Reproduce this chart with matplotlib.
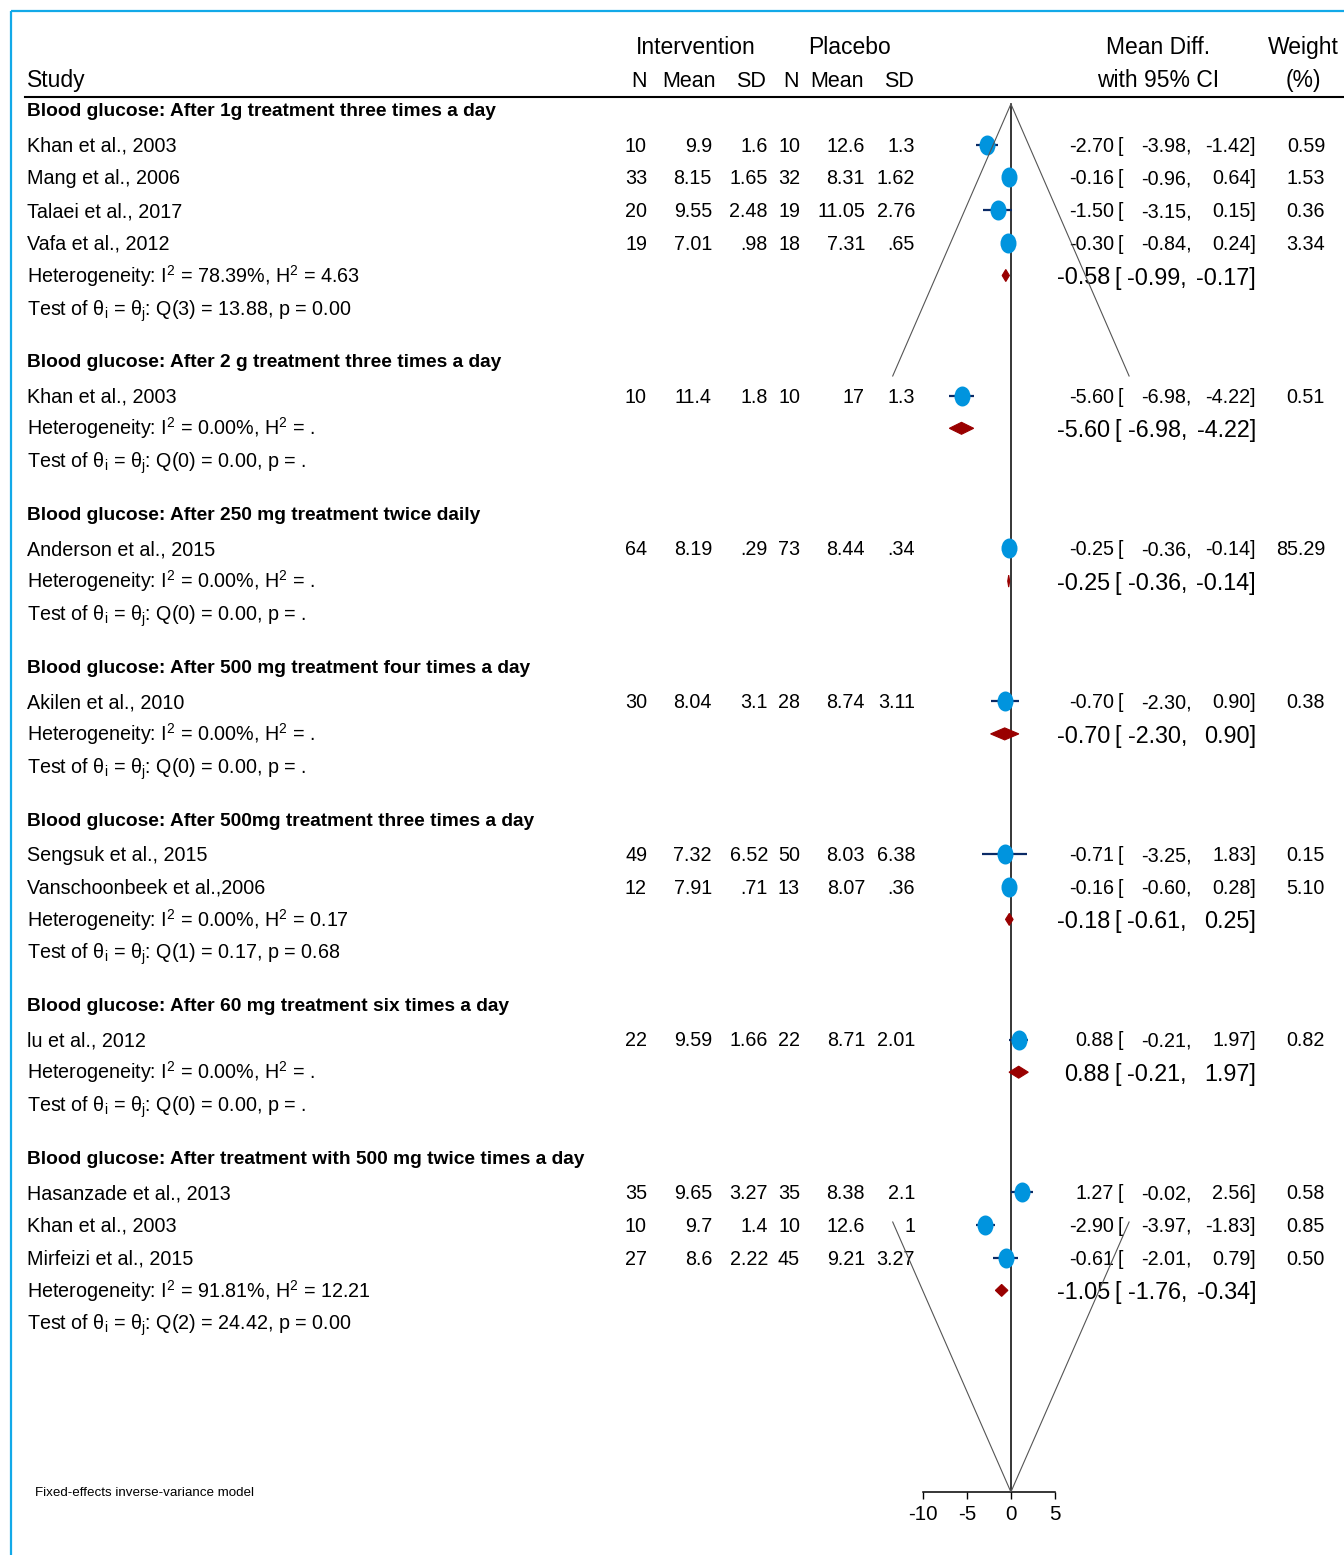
import matplotlib
matplotlib.use('Agg')
import matplotlib.pyplot as plt
from matplotlib.path import Path
from matplotlib.transforms import Affine2D

plt.rcParams['font.family'] = ['Liberation Sans', 'DejaVu Sans']
plt.rcParams['mathtext.fontset'] = 'custom'
plt.rcParams['mathtext.rm'] = 'Liberation Sans'
plt.rcParams['mathtext.it'] = 'Liberation Sans:italic'
plt.rcParams['mathtext.default'] = 'regular'
plt.rcParams['axes.unicode_minus'] = False

# %%
# subgroups and studies
groups = ['Blood glucose: After 1g treatment three times a day',
          'Blood glucose: After 2 g treatment three times a day',
          'Blood glucose: After 250 mg treatment twice daily',
          'Blood glucose: After 500 mg treatment four times a day',
          'Blood glucose: After 500mg treatment three times a day',
          'Blood glucose: After 60 mg treatment six times a day',
          'Blood glucose: After treatment with 500 mg twice times a day']
study_group = [0, 0, 0, 0, 1, 2, 3, 4, 4, 5, 6, 6, 6]
studies = ['Khan et al., 2003', 'Mang et al., 2006', 'Talaei et al., 2017', 'Vafa et al., 2012',
           'Khan et al., 2003', 'Anderson et al., 2015', 'Akilen et al., 2010',
           'Sengsuk et al., 2015', 'Vanschoonbeek et al.,2006', 'lu et al., 2012',
           'Hasanzade et al., 2013', 'Khan et al., 2003', 'Mirfeizi et al., 2015']
int_n = ['10', '33', '20', '19', '10', '64', '30', '49', '12', '22', '35', '10', '27']
int_mean = ['9.9', '8.15', '9.55', '7.01', '11.4', '8.19', '8.04', '7.32', '7.91', '9.59', '9.65', '9.7', '8.6']
int_sd = ['1.6', '1.65', '2.48', '.98', '1.8', '.29', '3.1', '6.52', '.71', '1.66', '3.27', '1.4', '2.22']
pla_n = ['10', '32', '19', '18', '10', '73', '28', '50', '13', '22', '35', '10', '45']
pla_mean = ['12.6', '8.31', '11.05', '7.31', '17', '8.44', '8.74', '8.03', '8.07', '8.71', '8.38', '12.6', '9.21']
pla_sd = ['1.3', '1.62', '2.76', '.65', '1.3', '.34', '3.11', '6.38', '.36', '2.01', '2.1', '1', '3.27']
md = [-2.70, -0.16, -1.50, -0.30, -5.60, -0.25, -0.70, -0.71, -0.16, 0.88, 1.27, -2.90, -0.61]
md_lo = [-3.98, -0.96, -3.15, -0.84, -6.98, -0.36, -2.30, -3.25, -0.60, -0.21, -0.02, -3.97, -2.01]
md_hi = [-1.42, 0.64, 0.15, 0.24, -4.22, -0.14, 0.90, 1.83, 0.28, 1.97, 2.56, -1.83, 0.79]
weight = [0.59, 1.53, 0.36, 3.34, 0.51, 85.29, 0.38, 0.15, 5.10, 0.82, 0.58, 0.85, 0.50]

# subgroup pooled results
sub_md = [-0.58, -5.60, -0.25, -0.70, -0.18, 0.88, -1.05]
sub_lo = [-0.99, -6.98, -0.36, -2.30, -0.61, -0.21, -1.76]
sub_hi = [-0.17, -4.22, -0.14, 0.90, 0.25, 1.97, -0.34]
i2 = ['78.39', '0.00', '0.00', '0.00', '0.00', '0.00', '91.81']
h2 = ['4.63', '.', '.', '.', '0.17', '.', '12.21']
q_df = [3, 0, 0, 0, 1, 0, 2]
q_stat = ['13.88', '0.00', '0.00', '0.00', '0.17', '0.00', '24.42']
q_p = ['0.00', '.', '.', '.', '0.68', '.', '0.00']

x_ticks = [-10, -5, 0, 5]

# %%
BLUE = '#0094DE'
NAVY = '#0A2A66'
DRED = '#990000'
FS = 14.2       # table rows
FS_HEAD = 16.5  # column headers
FS_SUM = 16.8   # pooled estimates

fig = plt.figure(figsize=(13.44, 15.55), dpi=100)
ax = fig.add_axes([0, 0, 1, 1])
ax.set_xlim(0, 1344)
ax.set_ylim(1555, 0)
ax.axis('off')

# forest panel: x in mean-difference units, y in the same row coordinates as ax
x_left, x_right, y_axis = 922.7, 1055.0, 1491.5
ax2 = fig.add_axes([x_left / 1344, (1555 - y_axis) / 1555,
                    (x_right - x_left) / 1344, y_axis / 1555])
ax2.patch.set_visible(False)
ax2.set_xlim(-10, 5)
ax2.set_ylim(y_axis, 0)
for s in ['top', 'left', 'right']:
    ax2.spines[s].set_visible(False)
ax2.spines['bottom'].set_linewidth(1.1)
ax2.set_yticks([])
ax2.set_xticks(x_ticks)
ax2.set_xticklabels([str(t) for t in x_ticks])
ax2.tick_params(axis='x', direction='out', length=4.8, width=1.0, pad=5, labelsize=14.8)

# frame lines
ax.plot([11, 11], [11, 1555], color='#12A9E8', lw=1.6, solid_capstyle='butt')
ax.plot([11, 1344], [11, 11], color='#12A9E8', lw=1.6, solid_capstyle='butt')
ax.plot([25, 1344], [97, 97], color='black', lw=1.5)

# column headers
hb1, hb2 = 54, 87
ax.text(696, hb1, 'Intervention', ha='center', va='baseline', fontsize=FS_HEAD)
ax.text(849, hb1, 'Placebo', ha='center', va='baseline', fontsize=FS_HEAD)
ax.text(1158, hb1, 'Mean Diff.', ha='center', va='baseline', fontsize=FS_HEAD)
ax.text(1303, hb1, 'Weight', ha='center', va='baseline', fontsize=FS_HEAD)
ax.text(27, hb2, 'Study', ha='left', va='baseline', fontsize=FS_HEAD)
for xc, lab in zip([639, 689, 751, 791, 837, 899], ['N', 'Mean', 'SD', 'N', 'Mean', 'SD']):
    ax.text(xc, hb2, lab, ha='center', va='baseline', fontsize=15.5)
ax.text(1158, hb2, 'with 95% CI', ha='center', va='baseline', fontsize=FS_HEAD)
ax.text(1303, hb2, '(%)', ha='center', va='baseline', fontsize=FS_HEAD)

# column right edges
col_right = [647, 712, 768, 800, 865, 915]

row_y0, row_step, group_gap = 112, 32.7, 22
k = 0
for g, title in enumerate(groups):
    y = row_y0 + k * row_step + g * group_gap
    ax.text(27, y - 2.5 + 7, title, ha='left', va='baseline', fontsize=13.8, fontweight='bold')
    k += 1
    for i in [j for j, sg in enumerate(study_group) if sg == g]:
        y = row_y0 + k * row_step + g * group_gap
        yb = y + 7
        ax.text(27, yb, studies[i], ha='left', va='baseline', fontsize=FS)
        for xr, val in zip(col_right, [int_n[i], int_mean[i], int_sd[i],
                                       pla_n[i], pla_mean[i], pla_sd[i]]):
            ax.text(xr, yb, val, ha='right', va='baseline', fontsize=FS)
        ax.text(1114, yb, f'{md[i]:.2f}', ha='right', va='baseline', fontsize=FS)
        ax.text(1118, yb, '[', ha='left', va='baseline', fontsize=FS)
        ax.text(1192, yb, f'{md_lo[i]:.2f},', ha='right', va='baseline', fontsize=FS)
        ax.text(1256, yb, f'{md_hi[i]:.2f}]', ha='right', va='baseline', fontsize=FS)
        ax.text(1325, yb, f'{weight[i]:.2f}', ha='right', va='baseline', fontsize=FS)
        # study estimate with CI
        ax2.plot([md_lo[i], md_hi[i]], [y, y], color=NAVY, lw=1.6, zorder=3,
                 solid_capstyle='butt')
        ax2.plot([md[i]], [y], marker=Path.unit_circle().transformed(Affine2D().scale(0.8, 1.0)),
                 ms=14.4, color=BLUE, mec='none', zorder=4)
        k += 1
    # heterogeneity row with pooled diamond
    y = row_y0 + k * row_step + g * group_gap
    ax.text(27, y + 7, f'Heterogeneity: I$^{{2}}$ = {i2[g]}%, H$^{{2}}$ = {h2[g]}',
            ha='left', va='baseline', fontsize=FS)
    ax.text(1110, y + 9, f'{sub_md[g]:.2f}', ha='right', va='baseline', fontsize=FS_SUM)
    ax.text(1114, y + 9, '[', ha='left', va='baseline', fontsize=FS_SUM)
    ax.text(1187, y + 9, f'{sub_lo[g]:.2f},', ha='right', va='baseline', fontsize=FS_SUM)
    ax.text(1256, y + 9, f'{sub_hi[g]:.2f}]', ha='right', va='baseline', fontsize=FS_SUM)
    ax2.fill([sub_lo[g], sub_md[g], sub_hi[g], sub_md[g]], [y, y - 6, y, y + 6],
             color=DRED, lw=0.8, ec=DRED, zorder=4)
    k += 1
    y = row_y0 + k * row_step + g * group_gap
    ax.text(27, y + 7, f'Test of θ$_{{i}}$ = θ$_{{j}}$: Q({q_df[g]}) = {q_stat[g]}, p = {q_p[g]}',
            ha='left', va='baseline', fontsize=FS)
    k += 1

# line of no effect
ax2.plot([0, 0], [104, y_axis], color='black', lw=1.1, zorder=2, clip_on=False)

# funnel guide lines
ax2.plot([-13.4, 0, 13.4], [376, 104, 376], color='#555555', lw=0.8, zorder=5, clip_on=False)
ax2.plot([-13.4, 0, 13.4], [1222, 1492, 1222], color='#555555', lw=0.8, zorder=5, clip_on=False)

ax.text(35, 1496, 'Fixed-effects inverse-variance model', ha='left', va='baseline',
        fontsize=9.6)

plt.savefig('out.png', dpi=100)
